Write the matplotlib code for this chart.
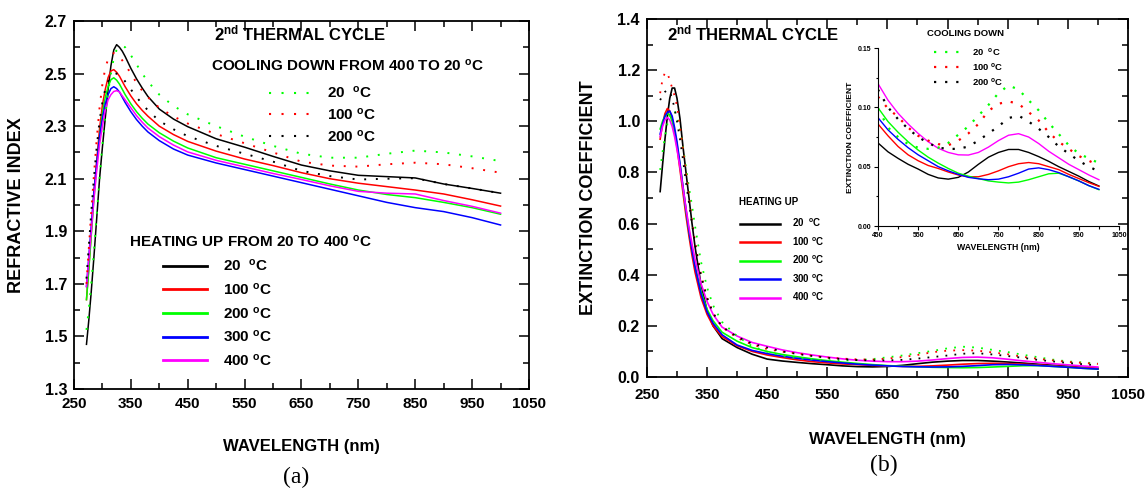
import numpy as np
import matplotlib.pyplot as plt
from matplotlib.lines import Line2D
from matplotlib.ticker import MultipleLocator, FormatStrFormatter

plt.rcParams['font.family'] = ['Liberation Sans', 'DejaVu Sans']
plt.rcParams['font.weight'] = 'bold'
plt.rcParams['mathtext.fontset'] = 'custom'
plt.rcParams['mathtext.rm'] = 'Liberation Sans:bold'
plt.rcParams['mathtext.it'] = 'Liberation Sans:bold'
plt.rcParams['mathtext.bf'] = 'Liberation Sans:bold'
plt.rcParams['mathtext.default'] = 'rm'

# ==========================================
# 1. DATA
# ==========================================
# (a) refractive index vs wavelength
wl_n = [272, 276, 280, 285, 290, 295, 300, 305, 310, 315, 320, 325, 330, 335, 340,
        350, 360, 370, 380, 400, 425, 450, 500, 550, 600, 650, 700, 750, 800, 850,
        900, 950, 1000]

n_heat_20 = [1.47, 1.56, 1.66, 1.80, 1.95, 2.10, 2.22, 2.33, 2.44, 2.53, 2.59, 2.61, 2.60,
             2.585, 2.565, 2.52, 2.48, 2.445, 2.413, 2.365, 2.327, 2.298, 2.252, 2.22, 2.185,
             2.152, 2.13, 2.113, 2.108, 2.103, 2.08, 2.063, 2.045]
n_heat_100 = [1.64, 1.76, 1.88, 2.04, 2.17, 2.29, 2.38, 2.44, 2.485, 2.51, 2.515, 2.505, 2.49,
              2.47, 2.45, 2.415, 2.385, 2.36, 2.338, 2.30, 2.268, 2.242, 2.205, 2.175, 2.15,
              2.123, 2.10, 2.083, 2.07, 2.057, 2.042, 2.02, 1.996]
n_heat_200 = [1.64, 1.75, 1.87, 2.02, 2.15, 2.26, 2.35, 2.41, 2.45, 2.477, 2.484, 2.475, 2.46,
              2.44, 2.42, 2.385, 2.355, 2.33, 2.308, 2.275, 2.243, 2.217, 2.18, 2.155, 2.13,
              2.105, 2.08, 2.057, 2.04, 2.028, 2.01, 1.99, 1.965]
n_heat_300 = [1.69, 1.80, 1.91, 2.05, 2.16, 2.26, 2.33, 2.385, 2.42, 2.443, 2.45, 2.443, 2.43,
              2.41, 2.39, 2.355, 2.325, 2.30, 2.278, 2.245, 2.213, 2.19, 2.16, 2.135, 2.11,
              2.085, 2.06, 2.035, 2.01, 1.99, 1.975, 1.952, 1.924]
n_heat_400 = [1.69, 1.79, 1.89, 2.02, 2.13, 2.23, 2.30, 2.36, 2.40, 2.42, 2.432, 2.435, 2.43,
              2.415, 2.40, 2.37, 2.34, 2.315, 2.293, 2.26, 2.228, 2.202, 2.17, 2.145, 2.12,
              2.097, 2.073, 2.052, 2.045, 2.042, 2.017, 1.995, 1.969]
n_cool_20 = [1.525, 1.60, 1.69, 1.82, 1.96, 2.10, 2.23, 2.34, 2.43, 2.50, 2.56, 2.59, 2.605,
             2.606, 2.60, 2.57, 2.535, 2.50, 2.47, 2.42, 2.377, 2.345, 2.30, 2.26, 2.225,
             2.195, 2.18, 2.18, 2.195, 2.207, 2.20, 2.185, 2.167]
n_cool_100 = [1.70, 1.83, 1.96, 2.11, 2.25, 2.37, 2.46, 2.52, 2.555, 2.57, 2.578, 2.575, 2.565,
              2.55, 2.535, 2.50, 2.465, 2.435, 2.41, 2.37, 2.337, 2.31, 2.27, 2.235, 2.20,
              2.165, 2.15, 2.146, 2.155, 2.161, 2.155, 2.14, 2.123]
n_cool_200 = [1.72, 1.84, 1.96, 2.10, 2.22, 2.32, 2.39, 2.44, 2.47, 2.49, 2.498, 2.50, 2.495,
              2.485, 2.47, 2.44, 2.41, 2.385, 2.36, 2.32, 2.288, 2.262, 2.225, 2.195, 2.165,
              2.13, 2.11, 2.097, 2.10, 2.102, 2.08, 2.063, 2.045]

# (b) extinction coefficient, UV part and visible part (the visible part is also the inset)
wl_uv = [272, 276, 280, 284, 288, 292, 296, 300, 305, 310, 315, 320, 325, 330, 340, 350,
         360, 375, 400, 425]
wl_vis = [450, 475, 500, 525, 550, 575, 600, 625, 650, 675, 700, 725, 750, 775, 800, 825,
          850, 875, 900, 925, 950, 975, 1000]

k_heat_20_uv = [0.725, 0.83, 0.93, 1.02, 1.09, 1.13, 1.13, 1.09, 1.01, 0.90, 0.80, 0.70, 0.60,
                0.51, 0.36, 0.26, 0.20, 0.15, 0.115, 0.089]
k_heat_100_uv = [0.93, 0.99, 1.03, 1.05, 1.04, 1.01, 0.96, 0.90, 0.81, 0.72, 0.63, 0.55, 0.475,
                 0.41, 0.31, 0.245, 0.20, 0.158, 0.122, 0.10]
k_heat_200_uv = [0.97, 1.00, 1.02, 1.03, 1.025, 1.00, 0.96, 0.91, 0.83, 0.74, 0.65, 0.57, 0.50,
                 0.435, 0.335, 0.265, 0.22, 0.175, 0.14, 0.115]
k_heat_300_uv = [0.95, 0.99, 1.02, 1.035, 1.04, 1.02, 0.975, 0.92, 0.835, 0.745, 0.655, 0.57,
                 0.495, 0.43, 0.325, 0.255, 0.21, 0.165, 0.125, 0.104]
k_heat_400_uv = [0.94, 0.98, 1.005, 1.015, 1.005, 0.98, 0.94, 0.89, 0.82, 0.74, 0.66, 0.585,
                 0.52, 0.46, 0.365, 0.295, 0.245, 0.195, 0.16, 0.135]
k_cool_20_uv = [0.81, 0.88, 0.94, 0.99, 1.025, 1.04, 1.04, 1.02, 0.97, 0.90, 0.82, 0.74, 0.67,
                0.59, 0.45, 0.35, 0.28, 0.215, 0.16, 0.12]
k_cool_100_uv = [1.11, 1.165, 1.19, 1.19, 1.16, 1.13, 1.10, 1.06, 0.98, 0.89, 0.80, 0.71, 0.61,
                 0.53, 0.40, 0.31, 0.25, 0.195, 0.153, 0.127]
k_cool_200_uv = [1.083, 1.10, 1.115, 1.122, 1.115, 1.09, 1.05, 1.00, 0.93, 0.85, 0.76, 0.68,
                 0.60, 0.52, 0.395, 0.31, 0.25, 0.197, 0.157, 0.13]

k_heat_20_vis = [0.070, 0.0625, 0.057, 0.052, 0.048, 0.0435, 0.0405, 0.0395, 0.041, 0.0455,
                 0.052, 0.058, 0.062, 0.0645, 0.0645, 0.062, 0.0585, 0.0545, 0.050, 0.046,
                 0.042, 0.0375, 0.0337]
k_heat_100_vis = [0.086, 0.076, 0.067, 0.060, 0.055, 0.051, 0.0485, 0.0455, 0.043, 0.0415,
                  0.0415, 0.0435, 0.0465, 0.050, 0.0525, 0.0535, 0.0525, 0.050, 0.0475,
                  0.0435, 0.040, 0.0365, 0.0334]
k_heat_200_vis = [0.0997, 0.088, 0.079, 0.071, 0.064, 0.058, 0.053, 0.0485, 0.0445, 0.042,
                  0.040, 0.038, 0.037, 0.0363, 0.037, 0.039, 0.0415, 0.044, 0.0445, 0.0415,
                  0.038, 0.034, 0.0306]
k_heat_300_vis = [0.0913, 0.081, 0.073, 0.066, 0.060, 0.055, 0.050, 0.0465, 0.0435, 0.041,
                  0.0398, 0.039, 0.0395, 0.0415, 0.0445, 0.048, 0.049, 0.0475, 0.045, 0.0415,
                  0.038, 0.034, 0.0309]
k_heat_400_vis = [0.120, 0.106, 0.095, 0.086, 0.078, 0.071, 0.0655, 0.062, 0.060, 0.0598,
                  0.062, 0.0665, 0.072, 0.0765, 0.0778, 0.075, 0.0695, 0.063, 0.0575, 0.052,
                  0.0475, 0.043, 0.039]
k_cool_20_vis = [0.099, 0.083, 0.075, 0.069, 0.066, 0.065, 0.066, 0.070, 0.077, 0.084, 0.093,
                 0.102, 0.112, 0.1185, 0.115, 0.106, 0.0975, 0.087, 0.0775, 0.068, 0.061,
                 0.057, 0.053]
k_cool_100_vis = [0.109, 0.099, 0.092, 0.083, 0.076, 0.072, 0.069, 0.068, 0.072, 0.078, 0.086,
                  0.097, 0.103, 0.105, 0.103, 0.096, 0.089, 0.079, 0.071, 0.065, 0.059,
                  0.055, 0.051]
k_cool_200_vis = [0.115, 0.100, 0.090, 0.082, 0.075, 0.070, 0.066, 0.065, 0.065, 0.067, 0.072,
                  0.078, 0.084, 0.091, 0.093, 0.088, 0.082, 0.075, 0.067, 0.061, 0.055,
                  0.050, 0.046]

heat_labels = ['20  $^{o}$C', '100 $^{o}$C', '200 $^{o}$C', '300 $^{o}$C', '400 $^{o}$C']
cool_labels = ['20  $^{o}$C', '100 $^{o}$C', '200 $^{o}$C']
heat_colors = ['black', '#ff0000', '#00ff00', '#0000ff', '#ff00ff']
cool_colors = ['#00ff00', '#ff0000', 'black']

n_heat = [n_heat_20, n_heat_100, n_heat_200, n_heat_300, n_heat_400]
n_cool = [n_cool_20, n_cool_100, n_cool_200]
k_heat = [(k_heat_20_uv, k_heat_20_vis), (k_heat_100_uv, k_heat_100_vis),
          (k_heat_200_uv, k_heat_200_vis), (k_heat_300_uv, k_heat_300_vis),
          (k_heat_400_uv, k_heat_400_vis)]
k_cool = [(k_cool_20_uv, k_cool_20_vis), (k_cool_100_uv, k_cool_100_vis),
          (k_cool_200_uv, k_cool_200_vis)]

DOT = (0, (1, 5))


def style_axis(ax, xsize=11, ysize=11.5):
    # ticks at 250, 350, ... with minor ones in between, all pointing inwards
    ax.set_xlim(250, 1050)
    ax.xaxis.set_major_locator(MultipleLocator(100, offset=50))
    ax.xaxis.set_minor_locator(MultipleLocator(50))
    ax.tick_params(which='both', direction='in', top=True, right=True, width=1.1)
    ax.tick_params(which='major', length=7)
    ax.tick_params(which='minor', length=4)
    ax.tick_params(axis='x', labelsize=xsize, pad=6)
    ax.tick_params(axis='y', labelsize=ysize, pad=5)
    for s in ax.spines.values():
        s.set_linewidth(1.3)


fig = plt.figure(figsize=(11.45, 4.91), dpi=100)

# ==========================================
# 2. PANEL (a): REFRACTIVE INDEX
# ==========================================
ax1 = fig.add_axes([0.0646, 0.2077, 0.3974, 0.7495])
for vals, c in zip(n_heat, heat_colors):
    ax1.plot(wl_n, vals, color=c, lw=1.1)
for vals, c in zip(n_cool, cool_colors):
    ax1.plot(wl_n, vals, color=c, lw=1.4, linestyle=DOT)

style_axis(ax1)
ax1.set_ylim(1.3, 2.7)
ax1.yaxis.set_major_locator(MultipleLocator(0.2, offset=0.1))
ax1.yaxis.set_minor_locator(MultipleLocator(0.1))
ax1.yaxis.set_major_formatter(FormatStrFormatter('%.1f'))
ax1.set_xlabel('WAVELENGTH (nm)', fontsize=12, fontweight='bold')
ax1.xaxis.set_label_coords(0.5, -0.135)
ax1.set_ylabel('REFRACTIVE INDEX', fontsize=13, fontweight='bold')
ax1.yaxis.set_label_coords(-0.107, 0.5)

ax1.text(0.497, 0.965, '2$^{nd}$ THERMAL CYCLE', transform=ax1.transAxes,
         ha='center', va='center', fontsize=12, fontweight='bold')
ax1.text(0.602, 0.878, 'COOLING DOWN FROM 400 TO 20 $^{o}$C', transform=ax1.transAxes,
         ha='center', va='center', fontsize=11, fontweight='bold')
ax1.text(0.389, 0.400, 'HEATING UP FROM 20 TO 400 $^{o}$C', transform=ax1.transAxes,
         ha='center', va='center', fontsize=11, fontweight='bold')

cool_handles = [Line2D([], [], color=c, lw=1.5, linestyle=DOT) for c in cool_colors]
leg = ax1.legend(cool_handles, cool_labels, loc='upper left', bbox_to_anchor=(0.428, 0.826),
                 frameon=False, fontsize=11, handlelength=2.8, handletextpad=1.0,
                 labelspacing=0.37, borderpad=0, borderaxespad=0)
ax1.add_artist(leg)
heat_handles = [Line2D([], [], color=c, lw=2.0) for c in heat_colors]
ax1.legend(heat_handles, heat_labels, loc='upper left', bbox_to_anchor=(0.196, 0.356),
           frameon=False, fontsize=11, handlelength=2.9, handletextpad=1.0,
           labelspacing=0.5, borderpad=0, borderaxespad=0)

fig.text(0.2585, 0.028, '(a)', fontsize=17, family='Liberation Serif', fontweight='normal',
         ha='center', va='center')

# ==========================================
# 3. PANEL (b): EXTINCTION COEFFICIENT
# ==========================================
ax2 = fig.add_axes([0.565, 0.2322, 0.4201, 0.7291])
wl_k = wl_uv + wl_vis
for (uv, vis), c in zip(k_heat, heat_colors):
    ax2.plot(wl_k, uv + vis, color=c, lw=1.2)
for (uv, vis), c in zip(k_cool, cool_colors):
    ax2.plot(wl_k, uv + vis, color=c, lw=1.3, linestyle=(0, (1, 4)))

style_axis(ax2)
ax2.set_ylim(0.0, 1.4)
ax2.yaxis.set_major_locator(MultipleLocator(0.2))
ax2.yaxis.set_minor_locator(MultipleLocator(0.1))
ax2.yaxis.set_major_formatter(FormatStrFormatter('%.1f'))
ax2.tick_params(axis='x', pad=8)
ax2.set_xlabel('WAVELENGTH (nm)', fontsize=12, fontweight='bold')
ax2.xaxis.set_label_coords(0.5, -0.155)
ax2.set_ylabel('EXTINCTION COEFFICIENT', fontsize=13, fontweight='bold')
ax2.yaxis.set_label_coords(-0.103, 0.5)

ax2.text(0.221, 0.961, '2$^{nd}$ THERMAL CYCLE', transform=ax2.transAxes,
         ha='center', va='center', fontsize=12, fontweight='bold')
ax2.text(0.191, 0.489, 'HEATING UP', transform=ax2.transAxes,
         ha='left', va='center', fontsize=7, fontweight='bold')
heat_handles2 = [Line2D([], [], color=c, lw=1.8) for c in heat_colors]
ax2.legend(heat_handles2, heat_labels, loc='upper left', bbox_to_anchor=(0.193, 0.447),
           frameon=False, fontsize=7, handlelength=4.1, handletextpad=1.3,
           labelspacing=0.62, borderpad=0, borderaxespad=0)

fig.text(0.772, 0.052, '(b)', fontsize=17, family='Liberation Serif', fontweight='normal',
         ha='center', va='center')

# ==========================================
# 4. INSET: VISIBLE RANGE
# ==========================================
ax3 = fig.add_axes([0.7668, 0.5397, 0.2105, 0.3625])
ax3.patch.set_alpha(0)
for (uv, vis), c in zip(k_heat, heat_colors):
    ax3.plot(wl_vis, vis, color=c, lw=1.0)
for (uv, vis), c in zip(k_cool, cool_colors):
    ax3.plot(wl_vis, vis, color=c, lw=1.6, linestyle=(0, (1, 4)))
ax3.set_xlim(450, 1050)
ax3.set_ylim(0, 0.15)
ax3.xaxis.set_major_locator(MultipleLocator(100, offset=50))
ax3.xaxis.set_minor_locator(MultipleLocator(50))
ax3.yaxis.set_major_locator(MultipleLocator(0.05))
ax3.yaxis.set_minor_locator(MultipleLocator(0.025))
ax3.yaxis.set_major_formatter(FormatStrFormatter('%.2f'))
ax3.spines['top'].set_visible(False)
ax3.spines['right'].set_visible(False)
ax3.tick_params(which='both', direction='out', labelsize=5, pad=1.5, width=0.8)
ax3.tick_params(which='major', length=3)
ax3.tick_params(which='minor', length=1.8)
ax3.set_xlabel('WAVELENGTH (nm)', fontsize=6.3, fontweight='bold')
ax3.xaxis.set_label_coords(0.5, -0.095)
ax3.set_ylabel('EXTINCTION COEFFICIENT', fontsize=6.1, fontweight='bold')
ax3.yaxis.set_label_coords(-0.1, 0.5)
ax3.text(0.363, 1.079, 'COOLING DOWN', transform=ax3.transAxes,
         ha='center', va='center', fontsize=6.8, fontweight='bold')
cool_handles3 = [Line2D([], [], color=c, lw=1.6, linestyle=(0, (1, 4))) for c in cool_colors]
ax3.legend(cool_handles3, cool_labels, loc='upper left', bbox_to_anchor=(0.232, 1.012),
           frameon=False, fontsize=6.8, handlelength=2.8, handletextpad=1.2,
           labelspacing=0.33, borderpad=0, borderaxespad=0)

plt.savefig('out.png', dpi=100)
